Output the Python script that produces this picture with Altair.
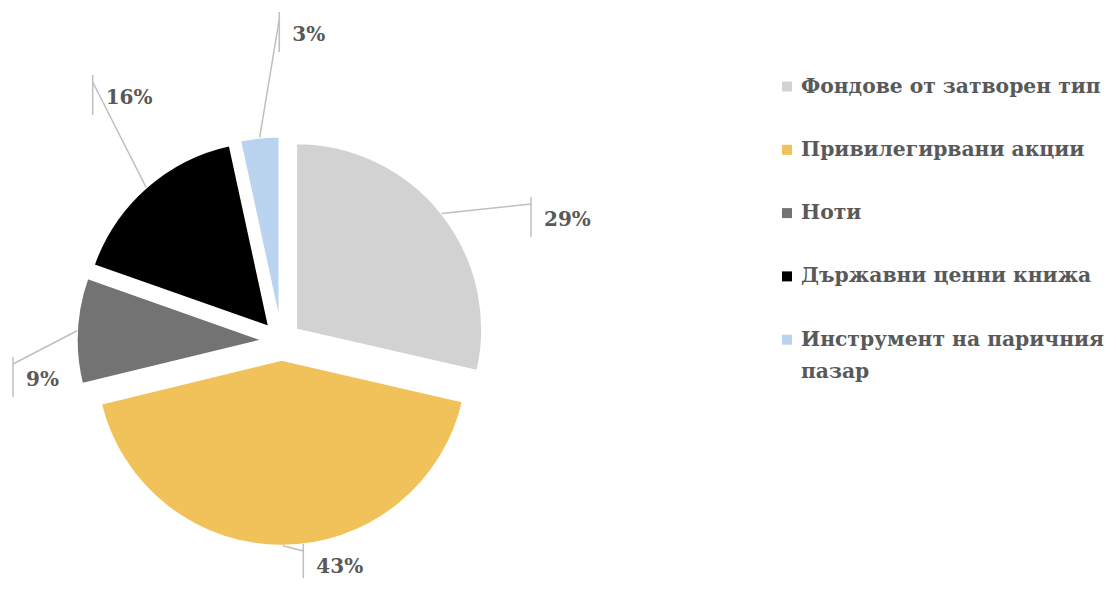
import math
import altair as alt
import pandas as pd

# ---------------- data ----------------
categories = [
    "Фондове от затворен тип",
    "Привилегирвани акции",
    "Ноти",
    "Държавни ценни книжа",
    "Инструмент на паричния пазар",
]
legend_text = [
    "Фондове от затворен тип",
    "Привилегирвани акции",
    "Ноти",
    "Държавни ценни книжа",
    "Инструмент на паричния\nпазар",
]
shares = [28.6, 42.6, 9.2, 16.2, 3.4]
colors = ["#D2D2D2", "#F2C25A", "#737373", "#000000", "#BAD4F0"]

# ---------------- layout (pixels inside the plot area) ----------------
W, H = 1100, 570
CX, CY = 273.5, 333.0      # pie centre
R = 186                    # pie radius
EXPLODE = 18.7             # slice explosion distance
label_bar_x = [523.0, 295.3, 5.0, 84.7, 271.3]
label_bar_top = [189.0, 536.0, 349.0, 67.0, 4.0]
BAR_LEN = 40
CONNECT = 7
LEG_X, LEG_TOP, LEG_STEP = 779, 78.5, 63.3
FONT = "DejaVu Serif"
TXT = "#595959"
LINE = "#BFBFBF"

df = pd.DataFrame({
    "idx": list(range(len(categories))),
    "cat": categories,
    "legend": legend_text,
    "value": shares,
    "bx": label_bar_x,
    "bt": label_bar_top,
})

xs = alt.Scale(domain=[0, W], range=[0, W], nice=False, zero=False)
ys = alt.Scale(domain=[0, H], range=[0, H], nice=False, zero=False)
color = alt.Color("cat:N", scale=alt.Scale(domain=categories, range=colors), legend=None)

base = (
    alt.Chart(df)
    .transform_joinaggregate(total="sum(value)")
    .transform_window(cum="sum(value)", sort=[alt.SortField("idx")])
    .transform_calculate(
        a0="(datum.cum - datum.value) / datum.total * 2 * PI",
        a1="datum.cum / datum.total * 2 * PI",
    )
    .transform_calculate(mid="(datum.a0 + datum.a1) / 2")
    .transform_calculate(
        sx=f"{CX} + {EXPLODE} * sin(datum.mid)",
        sy=f"{CY} - {EXPLODE} * cos(datum.mid)",
        lx=f"{CX} + {EXPLODE + R} * sin(datum.mid)",
        ly=f"{CY} - {EXPLODE + R} * cos(datum.mid)",
        cy2=f"datum.bt + {CONNECT}",
        bb=f"datum.bt + {BAR_LEN}",
        tx="datum.bx + 13",
        ty=f"datum.bt + {BAR_LEN / 2 + 3}",
        pct="format(datum.value / 100, '.0%')",
        legy=f"{LEG_TOP} + datum.idx * {LEG_STEP}",
        legsx=f"{LEG_X}",
        legtx=f"{LEG_X + 14}",
    )
)

slices = base.mark_arc(stroke="white", strokeWidth=2).encode(
    x=alt.X("sx:Q", scale=xs, axis=None),
    y=alt.Y("sy:Q", scale=ys, axis=None),
    theta=alt.Theta("a0:Q", scale=None),
    theta2="a1:Q",
    radius=alt.value(R),
    color=color,
)

leaders = base.mark_rule(color=LINE, strokeWidth=1.5).encode(
    x=alt.X("lx:Q", scale=xs), y=alt.Y("ly:Q", scale=ys),
    x2="bx:Q", y2="cy2:Q",
)
bars = base.mark_rule(color=LINE, strokeWidth=1.5).encode(
    x=alt.X("bx:Q", scale=xs), y=alt.Y("bt:Q", scale=ys), y2="bb:Q",
)
labels = base.mark_text(
    font=FONT, fontSize=20, fontWeight="bold", color=TXT, align="left", baseline="middle"
).encode(
    x=alt.X("tx:Q", scale=xs), y=alt.Y("ty:Q", scale=ys), text="pct:N",
)

leg_sym = base.mark_square(size=100, opacity=1).encode(
    x=alt.X("legsx:Q", scale=xs), y=alt.Y("legy:Q", scale=ys), color=color,
)
leg_txt = base.mark_text(
    font=FONT, fontSize=20.3, fontWeight="bold", color=TXT, align="left",
    baseline="middle", lineBreak="\n", lineHeight=32,
).encode(
    x=alt.X("legtx:Q", scale=xs), y=alt.Y("legy:Q", scale=ys), text="legend:N",
)

chart = (
    alt.layer(slices, leaders, bars, labels, leg_sym, leg_txt)
    .properties(width=W, height=H, padding=0, autosize=alt.AutoSizeParams(type="none"))
    .configure_view(stroke=None)
)

chart.save("out.html", embed_options={"renderer": "svg", "actions": False})
